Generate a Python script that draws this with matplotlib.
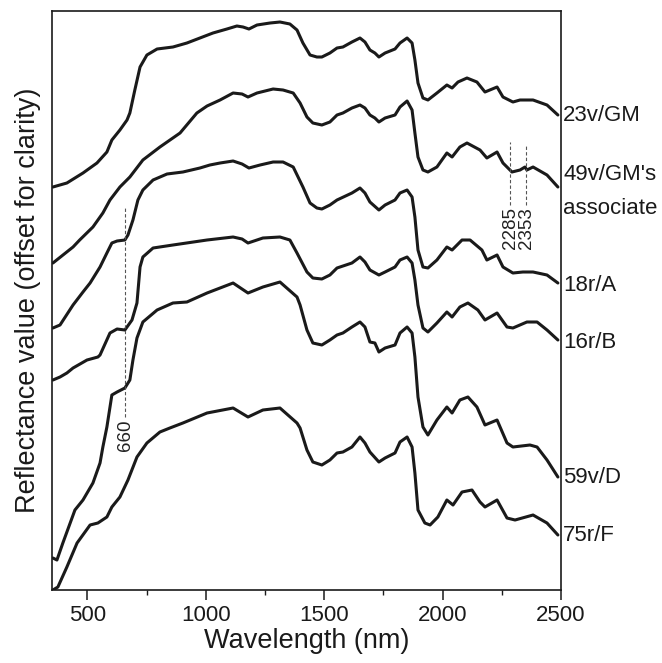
import matplotlib
matplotlib.use("Agg")
import matplotlib.pyplot as plt
import matplotlib.transforms as mtransforms

plt.rcParams['font.family'] = ['Liberation Sans', 'DejaVu Sans']

# ---- data: wavelength (nm) and offset reflectance (a.u.) ----
wl_23v = [354, 413, 481, 540, 582, 603, 637, 667, 679, 700, 722, 751, 794, 861, 920,
          975, 1030, 1089, 1131, 1157, 1182, 1216, 1271, 1313, 1355, 1385, 1410, 1440,
          1469, 1490, 1524, 1554, 1579, 1617, 1651, 1672, 1693, 1714, 1731, 1757, 1799,
          1820, 1850, 1871, 1883, 1896, 1917, 1938, 1976, 2018, 2040, 2065, 2103, 2145,
          2179, 2230, 2255, 2297, 2327, 2382, 2441, 2487]
r_23v = [4.03, 4.07, 4.17, 4.27, 4.38, 4.50, 4.60, 4.70, 4.77, 5.00, 5.23, 5.35, 5.41,
         5.43, 5.47, 5.52, 5.57, 5.61, 5.64, 5.63, 5.61, 5.65, 5.67, 5.68, 5.66, 5.60,
         5.47, 5.35, 5.33, 5.33, 5.37, 5.42, 5.43, 5.48, 5.52, 5.48, 5.40, 5.37, 5.33,
         5.37, 5.41, 5.47, 5.52, 5.47, 5.30, 5.07, 4.92, 4.90, 4.97, 5.05, 5.02, 5.08,
         5.12, 5.08, 4.98, 5.03, 4.93, 4.88, 4.90, 4.90, 4.85, 4.75]

wl_49v = [354, 439, 467, 523, 565, 595, 637, 679, 734, 806, 891, 962, 1005, 1060, 1115,
          1153, 1178, 1216, 1284, 1326, 1369, 1398, 1427, 1452, 1490, 1524, 1554, 1579,
          1617, 1651, 1672, 1693, 1714, 1731, 1757, 1799, 1820, 1850, 1871, 1883, 1896,
          1917, 1938, 1976, 2018, 2040, 2073, 2103, 2158, 2187, 2230, 2255, 2293, 2327,
          2348, 2356, 2382, 2441, 2487]
r_49v = [3.27, 3.43, 3.50, 3.63, 3.77, 3.90, 4.03, 4.13, 4.30, 4.43, 4.57, 4.77, 4.84,
         4.90, 4.97, 4.96, 4.93, 4.97, 5.01, 5.00, 4.97, 4.87, 4.73, 4.67, 4.65, 4.68,
         4.75, 4.77, 4.82, 4.85, 4.82, 4.75, 4.72, 4.68, 4.72, 4.75, 4.83, 4.89, 4.80,
         4.57, 4.33, 4.20, 4.18, 4.23, 4.37, 4.33, 4.43, 4.47, 4.40, 4.32, 4.38, 4.27,
         4.18, 4.20, 4.23, 4.20, 4.23, 4.15, 4.03]

wl_18r = [354, 384, 439, 481, 511, 553, 582, 603, 625, 658, 671, 692, 713, 734, 777,
          836, 903, 975, 1017, 1060, 1115, 1153, 1182, 1229, 1284, 1326, 1369, 1410,
          1440, 1469, 1490, 1524, 1554, 1617, 1651, 1672, 1693, 1731, 1757, 1799, 1820,
          1850, 1871, 1883, 1896, 1917, 1938, 1976, 2018, 2040, 2082, 2116, 2166, 2187,
          2230, 2255, 2297, 2339, 2382, 2441, 2487]
r_18r = [2.62, 2.65, 2.85, 2.98, 3.07, 3.23, 3.37, 3.47, 3.49, 3.50, 3.55, 3.70, 3.90,
         4.00, 4.10, 4.16, 4.18, 4.22, 4.25, 4.27, 4.29, 4.26, 4.22, 4.25, 4.28, 4.28,
         4.23, 4.03, 3.87, 3.82, 3.81, 3.85, 3.90, 3.97, 4.02, 3.97, 3.88, 3.80, 3.85,
         3.90, 3.97, 4.00, 3.93, 3.73, 3.40, 3.23, 3.22, 3.30, 3.43, 3.40, 3.50, 3.50,
         3.40, 3.30, 3.35, 3.23, 3.17, 3.18, 3.18, 3.15, 3.07]

wl_16r = [354, 384, 413, 439, 498, 544, 553, 595, 625, 658, 688, 709, 722, 734, 777,
          861, 1005, 1115, 1153, 1178, 1241, 1313, 1355, 1385, 1427, 1452, 1490, 1524,
          1554, 1617, 1651, 1672, 1693, 1731, 1757, 1799, 1820, 1850, 1871, 1883, 1896,
          1917, 1938, 1976, 2018, 2040, 2073, 2107, 2149, 2179, 2230, 2272, 2297, 2356,
          2399, 2441, 2487]
r_16r = [2.10, 2.13, 2.17, 2.22, 2.30, 2.33, 2.35, 2.57, 2.61, 2.60, 2.70, 2.87, 3.23,
         3.33, 3.42, 3.45, 3.50, 3.53, 3.51, 3.47, 3.52, 3.53, 3.50, 3.37, 3.18, 3.12,
         3.11, 3.15, 3.22, 3.27, 3.33, 3.28, 3.20, 3.15, 3.18, 3.23, 3.30, 3.33, 3.27,
         3.10, 2.85, 2.62, 2.58, 2.67, 2.78, 2.73, 2.83, 2.87, 2.80, 2.70, 2.77, 2.63,
         2.62, 2.68, 2.68, 2.60, 2.50]

wl_59v = [354, 371, 396, 447, 481, 523, 553, 565, 582, 603, 625, 658, 679, 692, 709,
          734, 794, 861, 920, 1005, 1115, 1178, 1241, 1313, 1385, 1398, 1427, 1452, 1490,
          1524, 1554, 1579, 1617, 1651, 1672, 1693, 1714, 1731, 1757, 1799, 1820, 1850,
          1871, 1883, 1896, 1917, 1938, 1976, 2018, 2040, 2073, 2107, 2145, 2179, 2230,
          2272, 2297, 2369, 2399, 2441, 2487]
r_59v = [0.32, 0.30, 0.47, 0.80, 0.90, 1.07, 1.27, 1.43, 1.63, 1.95, 1.98, 2.02, 2.10,
         2.30, 2.52, 2.68, 2.80, 2.87, 2.88, 2.97, 3.07, 2.97, 3.03, 3.08, 2.93, 2.85,
         2.60, 2.47, 2.45, 2.50, 2.55, 2.57, 2.63, 2.68, 2.63, 2.48, 2.47, 2.38, 2.42,
         2.45, 2.57, 2.63, 2.57, 2.33, 1.93, 1.63, 1.55, 1.70, 1.83, 1.77, 1.90, 1.93,
         1.83, 1.65, 1.70, 1.47, 1.43, 1.45, 1.43, 1.30, 1.13]

wl_75r = [354, 375, 413, 456, 511, 544, 582, 603, 637, 671, 709, 751, 806, 848, 903,
          1005, 1115, 1178, 1241, 1313, 1385, 1398, 1427, 1452, 1490, 1524, 1554, 1579,
          1617, 1651, 1672, 1693, 1731, 1757, 1799, 1820, 1850, 1871, 1883, 1896, 1925,
          1947, 1980, 2018, 2044, 2082, 2124, 2158, 2179, 2230, 2272, 2306, 2382, 2441,
          2487]
r_75r = [0.00, 0.03, 0.23, 0.47, 0.65, 0.67, 0.73, 0.83, 0.93, 1.10, 1.33, 1.47, 1.58,
         1.62, 1.67, 1.77, 1.82, 1.73, 1.80, 1.82, 1.67, 1.62, 1.40, 1.28, 1.25, 1.30,
         1.37, 1.38, 1.43, 1.53, 1.47, 1.38, 1.28, 1.32, 1.37, 1.48, 1.53, 1.43, 1.17,
         0.80, 0.67, 0.65, 0.73, 0.90, 0.85, 0.98, 1.00, 0.88, 0.83, 0.90, 0.72, 0.70,
         0.75, 0.67, 0.55]

sample_labels = ["23v/GM", "49v/GM's\nassociate", "18r/A", "16r/B", "59v/D", "75r/F"]
label_y = [4.75, 3.985, 3.05, 2.48, 1.13, 0.55]

# absorption features marked with dashed lines: (wavelength, y from, y to)
feature_wl = [660, 2285, 2353]
feature_y0 = [1.73, 3.85, 3.85]
feature_y1 = [3.83, 4.48, 4.46]

x_ticks = [500, 1000, 1500, 2000, 2500]
x_minor = [750, 1250, 1750, 2250]

# ---- figure ----
fig = plt.figure(figsize=(6.62, 6.63), dpi=100)
ax = fig.add_axes([0.0785, 0.1101, 0.7689, 0.8733])

series = [(wl_23v, r_23v), (wl_49v, r_49v), (wl_18r, r_18r),
          (wl_16r, r_16r), (wl_59v, r_59v), (wl_75r, r_75r)]
for wl, r in series:
    ax.plot(wl, r, color='#1a1a1a', lw=2.2, solid_joinstyle='round',
            solid_capstyle='round')

for w, y0, y1 in zip(feature_wl, feature_y0, feature_y1):
    ax.plot([w, w], [y0, y1], color='#555555', lw=0.8, ls=(0, (3, 2)))
    ax.text(w, y0 - 0.02, str(w), rotation=90, ha='center', va='top',
            fontsize=13.5, color='#222222')

trans = mtransforms.blended_transform_factory(ax.transAxes, ax.transData)
for lab, y in zip(sample_labels, label_y):
    ax.text(1.004, y, lab, transform=trans, ha='left', va='center',
            fontsize=16, color='#1a1a1a', linespacing=1.8)

ax.set_xlim(350, 2500)
ax.set_ylim(0, 5.79)
ax.set_xticks(x_ticks)
ax.set_xticks(x_minor, minor=True)
ax.set_yticks([])
ax.tick_params(axis='x', which='major', direction='out', length=7.5, width=1.1,
               labelsize=16, pad=3, colors='#1a1a1a')
ax.tick_params(axis='x', which='minor', direction='out', length=3.6, width=1.0,
               colors='#1a1a1a')
for s in ax.spines.values():
    s.set_linewidth(1.2)
    s.set_color('#1a1a1a')

ax.set_xlabel("Wavelength (nm)", fontsize=19.5, labelpad=2, color='#1a1a1a')
ax.set_ylabel("Reflectance value (offset for clarity)", fontsize=19.5, labelpad=8,
              color='#1a1a1a')

fig.savefig("out.png", dpi=100)
